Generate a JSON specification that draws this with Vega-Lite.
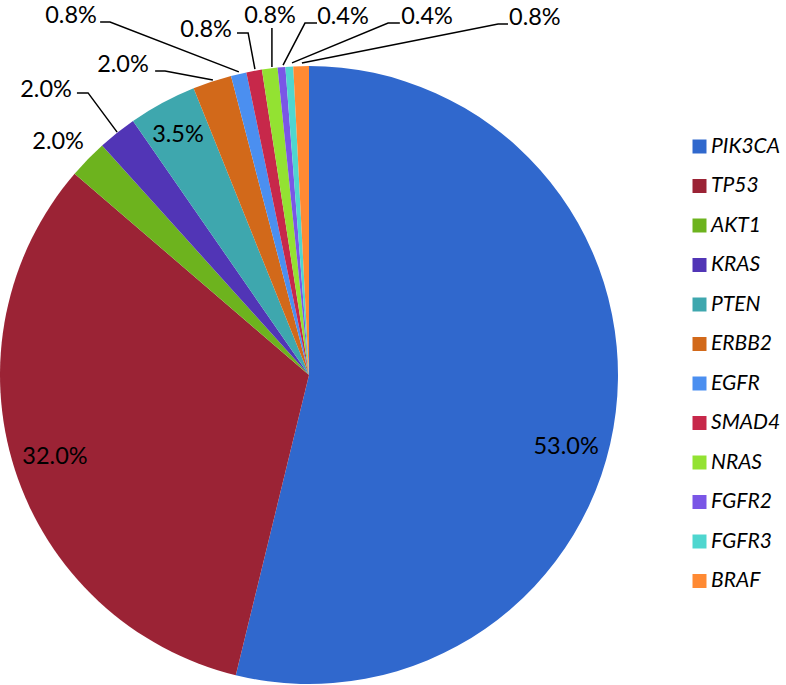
{
  "$schema": "https://vega.github.io/schema/vega-lite/v6.json",
  "width": 618,
  "height": 618,
  "autosize": {"type": "none"},
  "padding": {"left": 0, "top": 66, "right": 168, "bottom": 1},
  "background": "white",
  "config": {"view": {"stroke": null}},
  "datasets": {
    "genes": [
      {"gene": "PIK3CA", "pct": 53.0},
      {"gene": "TP53", "pct": 32.0},
      {"gene": "AKT1", "pct": 2.0},
      {"gene": "KRAS", "pct": 2.0},
      {"gene": "PTEN", "pct": 3.5},
      {"gene": "ERBB2", "pct": 2.0},
      {"gene": "EGFR", "pct": 0.8},
      {"gene": "SMAD4", "pct": 0.8},
      {"gene": "NRAS", "pct": 0.8},
      {"gene": "FGFR2", "pct": 0.4},
      {"gene": "FGFR3", "pct": 0.4},
      {"gene": "BRAF", "pct": 0.8}
    ],
    "labels": [
      {"gene": "PIK3CA", "label": "53.0%", "x": 0.832, "y": -0.233},
      {"gene": "TP53", "label": "32.0%", "x": -0.822, "y": -0.265},
      {"gene": "AKT1", "label": "2.0%", "x": -0.812, "y": 0.754},
      {"gene": "KRAS", "label": "2.0%", "x": -0.851, "y": 0.922},
      {"gene": "PTEN", "label": "3.5%", "x": -0.424, "y": 0.777},
      {"gene": "ERBB2", "label": "2.0%", "x": -0.602, "y": 1.003},
      {"gene": "EGFR", "label": "0.8%", "x": -0.770, "y": 1.163},
      {"gene": "SMAD4", "label": "0.8%", "x": -0.333, "y": 1.117},
      {"gene": "NRAS", "label": "0.8%", "x": -0.126, "y": 1.163},
      {"gene": "FGFR2", "label": "0.4%", "x": 0.110, "y": 1.159},
      {"gene": "FGFR3", "label": "0.4%", "x": 0.382, "y": 1.159},
      {"gene": "BRAF", "label": "0.8%", "x": 0.731, "y": 1.155}
    ],
    "leaders": [
      {"gene": "KRAS", "step": 1, "x": -0.751, "y": 0.913},
      {"gene": "KRAS", "step": 2, "x": -0.715, "y": 0.913},
      {"gene": "KRAS", "step": 3, "x": -0.621, "y": 0.786},
      {"gene": "ERBB2", "step": 1, "x": -0.498, "y": 0.984},
      {"gene": "ERBB2", "step": 2, "x": -0.466, "y": 0.984},
      {"gene": "ERBB2", "step": 3, "x": -0.311, "y": 0.955},
      {"gene": "EGFR", "step": 1, "x": -0.676, "y": 1.142},
      {"gene": "EGFR", "step": 2, "x": -0.644, "y": 1.142},
      {"gene": "EGFR", "step": 3, "x": -0.227, "y": 0.981},
      {"gene": "SMAD4", "step": 1, "x": -0.233, "y": 1.107},
      {"gene": "SMAD4", "step": 2, "x": -0.197, "y": 1.107},
      {"gene": "SMAD4", "step": 3, "x": -0.175, "y": 0.990},
      {"gene": "NRAS", "step": 1, "x": -0.120, "y": 1.123},
      {"gene": "NRAS", "step": 2, "x": -0.120, "y": 0.997},
      {"gene": "FGFR2", "step": 1, "x": 0.026, "y": 1.139},
      {"gene": "FGFR2", "step": 2, "x": -0.013, "y": 1.139},
      {"gene": "FGFR2", "step": 3, "x": -0.084, "y": 1.003},
      {"gene": "FGFR3", "step": 1, "x": 0.294, "y": 1.139},
      {"gene": "FGFR3", "step": 2, "x": 0.256, "y": 1.139},
      {"gene": "FGFR3", "step": 3, "x": -0.055, "y": 1.010},
      {"gene": "BRAF", "step": 1, "x": 0.644, "y": 1.136},
      {"gene": "BRAF", "step": 2, "x": 0.612, "y": 1.136},
      {"gene": "BRAF", "step": 3, "x": -0.023, "y": 1.010}
    ]
  },
  "layer": [
    {
      "data": {"name": "genes"},
      "transform": [{"window": [{"op": "row_number", "as": "rank"}]}],
      "mark": {"type": "arc"},
      "encoding": {
        "theta": {"field": "pct", "type": "quantitative", "stack": true},
        "order": {"field": "rank", "type": "quantitative", "sort": "ascending"},
        "color": {
          "field": "gene",
          "type": "nominal",
          "sort": ["PIK3CA", "TP53", "AKT1", "KRAS", "PTEN", "ERBB2", "EGFR", "SMAD4", "NRAS", "FGFR2", "FGFR3", "BRAF"],
          "scale": {
            "domain": ["PIK3CA", "TP53", "AKT1", "KRAS", "PTEN", "ERBB2", "EGFR", "SMAD4", "NRAS", "FGFR2", "FGFR3", "BRAF"],
            "range": ["#3068CD", "#9B2335", "#6DB31E", "#5135B6", "#3EA7AE", "#D2691A", "#4B8FF0", "#C7284A", "#93E232", "#7A56E6", "#4FD6CF", "#FF8A33"]
          },
          "legend": {
            "orient": "none",
            "legendX": 689,
            "legendY": 70,
            "title": null,
            "padding": 0,
            "symbolType": "square",
            "symbolSize": 196,
            "symbolStrokeWidth": 0,
            "labelFont": "Lato",
            "labelFontStyle": "italic",
            "labelFontSize": 21,
            "labelColor": "black",
            "labelOffset": 1,
            "rowPadding": 17.5
          }
        }
      }
    },
    {
      "data": {"name": "leaders"},
      "mark": {"type": "line", "color": "black", "strokeWidth": 1.5},
      "encoding": {
        "x": {"field": "x", "type": "quantitative", "scale": {"domain": [-1, 1], "nice": false, "zero": false}, "axis": null},
        "y": {"field": "y", "type": "quantitative", "scale": {"domain": [-1, 1], "nice": false, "zero": false}, "axis": null},
        "detail": {"field": "gene"},
        "order": {"field": "step"}
      }
    },
    {
      "data": {"name": "labels"},
      "mark": {"type": "text", "font": "Lato", "fontSize": 23.5, "color": "black", "align": "center", "baseline": "middle"},
      "encoding": {
        "x": {"field": "x", "type": "quantitative", "scale": {"domain": [-1, 1], "nice": false, "zero": false}, "axis": null},
        "y": {"field": "y", "type": "quantitative", "scale": {"domain": [-1, 1], "nice": false, "zero": false}, "axis": null},
        "text": {"field": "label"}
      }
    }
  ]
}
